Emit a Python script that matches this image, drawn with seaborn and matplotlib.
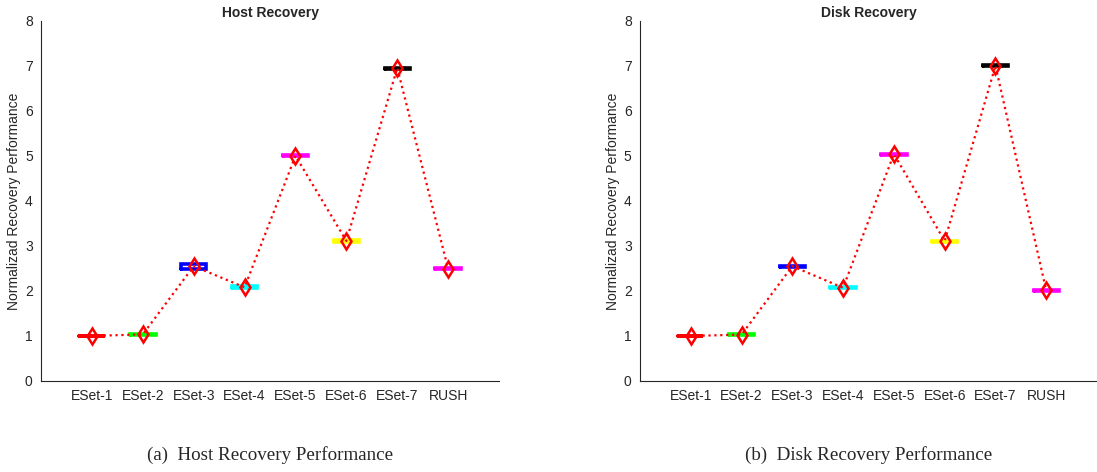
import numpy as np
import matplotlib
matplotlib.use("Agg")
import matplotlib.pyplot as plt
import seaborn as sns

categories = ["ESet-1", "ESet-2", "ESet-3", "ESet-4", "ESet-5", "ESet-6", "ESet-7", "RUSH"]
box_colors = ["#ff0000", "#00ff00", "#0000ff", "#00ffff", "#ff00ff", "#ffff00", "#000000", "#ff00ff"]

# Host recovery: box low / median / high and mean
host_lo = [0.99, 1.03, 2.49, 2.06, 4.99, 3.09, 6.93, 2.48]
host_med = [1.00, 1.035, 2.55, 2.08, 5.00, 3.115, 6.94, 2.49]
host_hi = [1.01, 1.045, 2.60, 2.11, 5.01, 3.14, 6.95, 2.50]
host_mean = [1.00, 1.035, 2.55, 2.08, 5.00, 3.11, 6.95, 2.49]

# Disk recovery
disk_lo = [0.99, 1.025, 2.53, 2.06, 5.01, 3.09, 6.99, 1.99]
disk_med = [1.00, 1.03, 2.545, 2.07, 5.02, 3.10, 7.00, 2.00]
disk_hi = [1.01, 1.035, 2.56, 2.08, 5.03, 3.11, 7.01, 2.01]
disk_mean = [1.00, 1.03, 2.55, 2.07, 5.04, 3.11, 7.00, 2.01]

sns.set_style("white")
plt.rcParams["font.family"] = ["Liberation Sans", "DejaVu Sans"]

fig = plt.figure(figsize=(10.97, 4.72), dpi=100)
ax1 = fig.add_axes([0.0374, 0.1928, 0.4175, 0.7633])
ax2 = fig.add_axes([0.5834, 0.1928, 0.4166, 0.7633])

tick_color = "#262626"


def draw(ax, lo, med, hi, mean, title, caption):
    pos = np.arange(1, len(categories) + 1)
    stats = []
    for l, m, h in zip(lo, med, hi):
        stats.append(dict(q1=l, med=m, q3=h, whislo=l, whishi=h, fliers=[]))
    bp = ax.bxp(stats, positions=pos, widths=0.5, showcaps=False, showfliers=False,
                patch_artist=False, manage_ticks=False,
                medianprops=dict(linewidth=0))
    for i, b in enumerate(bp["boxes"]):
        b.set_color(box_colors[i])
        b.set_linewidth(2.6)
        b.set_solid_joinstyle("miter")
    for w in bp["whiskers"]:
        w.set_linewidth(0)
    sns.lineplot(x=pos, y=mean, ax=ax, color="#ff0000", linestyle=":", linewidth=1.6,
                 marker="d", markersize=8, markerfacecolor="none",
                 markeredgecolor="#ff0000", markeredgewidth=1.8, zorder=5)
    ax.set_xlim(0, 9)
    ax.set_ylim(0, 8)
    ax.set_xticks(pos)
    ax.set_xticklabels(categories)
    ax.set_yticks(range(0, 9))
    ax.tick_params(direction="in", length=4, width=0.7, colors=tick_color,
                   labelsize=10, pad=6)
    for s in ["top", "right"]:
        ax.spines[s].set_visible(False)
    for s in ["left", "bottom"]:
        ax.spines[s].set_color(tick_color)
        ax.spines[s].set_linewidth(0.8)
    ax.set_ylabel("Normalizad Recovery Performance", fontsize=10, color=tick_color, labelpad=3)
    ax.set_title(title, fontsize=10, fontweight="bold", pad=3)
    ax.text(0.5, -0.205, caption, transform=ax.transAxes, ha="center", va="center",
            fontsize=13.7, family=["Liberation Serif", "DejaVu Serif"])


draw(ax1, host_lo, host_med, host_hi, host_mean, "Host Recovery", "(a)  Host Recovery Performance")
draw(ax2, disk_lo, disk_med, disk_hi, disk_mean, "Disk Recovery", "(b)  Disk Recovery Performance")

fig.savefig("out.png", dpi=100)
